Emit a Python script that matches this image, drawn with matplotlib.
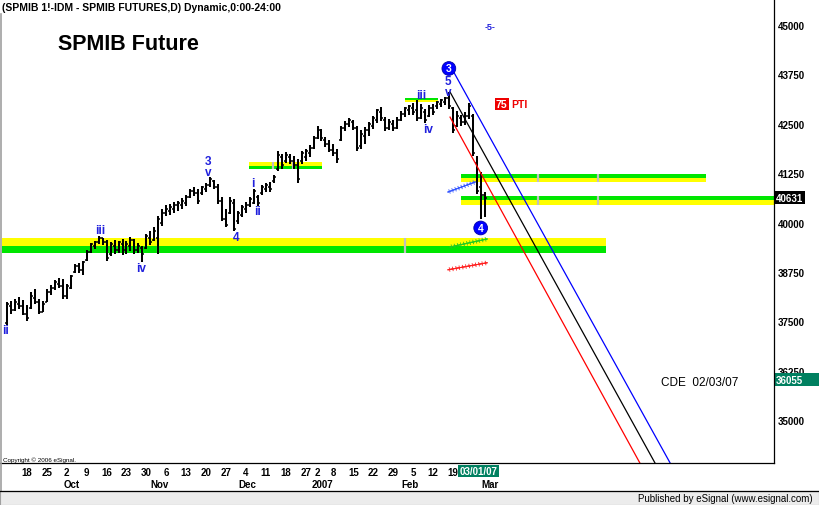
import numpy as np
import pandas as pd
import matplotlib
matplotlib.use("Agg")
import matplotlib.pyplot as plt
from matplotlib.patches import Rectangle
from matplotlib import patheffects, transforms

plt.rcParams['font.family'] = ['Liberation Sans', 'DejaVu Sans']

W, H = 819, 506

# ---------------- data ----------------
holidays = ["2006-12-25", "2006-12-26", "2007-01-01"]
dates = pd.bdate_range("2006-09-11", "2007-03-01", freq="C", holidays=holidays)

highs = [37990, 38020, 38070, 38120, 38040, 37920, 38240, 38320, 38070, 38020,
         38320, 38420, 38550, 38600, 38570, 38450, 38680, 38950, 38980, 39030,
         39310, 39480, 39540, 39660, 39610, 39560, 39510, 39560, 39540, 39590,
         39540, 39640, 39590, 39480, 39410, 39710, 39790, 39890, 40170, 40340,
         40450, 40470, 40520, 40550, 40620, 40700, 40850, 40900, 40850, 40930,
         41000, 41150, 41080, 40980, 40650, 40340, 40650, 40600, 40300, 40450,
         40520, 40650, 40850, 40700, 40950, 41000, 41030, 41210, 41810, 41740,
         41790, 41740, 41690, 41610, 41810, 41860, 41960, 42190, 42440, 42370,
         42170, 42090, 41990, 41860, 42440, 42570, 42650, 42600, 42440, 42340,
         42420, 42550, 42700, 42880, 42920, 42670, 42620, 42600, 42670, 42820,
         42930, 42980, 43030, 43100, 43000, 42880, 42980, 43000, 43080, 43130,
         43180, 43300, 42930, 42820, 42720, 42800, 43030, 42750, 41690, 41280,
         40780]
lows = [37410, 37690, 37760, 37820, 37660, 37510, 37820, 37940, 37690, 37740,
        37990, 38170, 38300, 38350, 38070, 38070, 38320, 38730, 38730, 38680,
        39030, 39230, 39330, 39460, 39430, 39030, 39160, 39210, 39230, 39180,
        39210, 39280, 39210, 39230, 39000, 39330, 39430, 39540, 39210, 39920,
        40170, 40190, 40240, 40290, 40350, 40420, 40620, 40670, 40470, 40700,
        40780, 40900, 40850, 40470, 40040, 39890, 40220, 39790, 39970, 40140,
        40240, 40390, 40470, 40420, 40700, 40780, 40780, 41000, 41310, 41360,
        41510, 41480, 41360, 41000, 41480, 41560, 41660, 41860, 42120, 42070,
        41910, 41790, 41690, 41510, 42070, 42320, 42420, 42340, 41810, 41860,
        41990, 42190, 42370, 42520, 42570, 42320, 42340, 42320, 42370, 42570,
        42670, 42720, 42720, 42570, 42620, 42520, 42670, 42720, 42880, 42930,
        42980, 42880, 42270, 42420, 42450, 42470, 42620, 41690, 40720, 40090,
        40150]
opens = [37450, 37900, 37800, 37950, 37900, 37700, 37850, 38100, 38000, 37750,
         38000, 38250, 38350, 38450, 38400, 38150, 38350, 38750, 38900, 38800,
         39050, 39250, 39400, 39500, 39600, 39500, 39200, 39400, 39300, 39450,
         39300, 39400, 39550, 39300, 39350, 39350, 39600, 39550, 39600, 40000,
         40250, 40300, 40350, 40450, 40450, 40500, 40650, 40800, 40750, 40750,
         40850, 40950, 41050, 40900, 40550, 40100, 40250, 40500, 40050, 40200,
         40350, 40450, 40500, 40650, 40750, 40850, 40900, 41050, 41350, 41650,
         41550, 41650, 41550, 41450, 41550, 41650, 41750, 41900, 42150, 42300,
         42100, 42000, 41850, 41750, 42100, 42400, 42500, 42550, 42400, 41950,
         42200, 42350, 42450, 42600, 42800, 42600, 42400, 42500, 42400, 42600,
         42750, 42850, 42900, 42850, 42650, 42800, 42700, 42900, 42950, 43000,
         43050, 43150, 42900, 42450, 42650, 42550, 42700, 42700, 41500, 40900,
         40700]
closes = [37950, 37800, 38000, 37900, 37700, 37600, 38150, 38000, 37750, 37950,
          38250, 38350, 38500, 38400, 38150, 38400, 38650, 38900, 38800, 39000,
          39250, 39450, 39500, 39600, 39500, 39100, 39450, 39300, 39500, 39250,
          39450, 39550, 39300, 39400, 39200, 39650, 39500, 39800, 40100, 40250,
          40350, 40400, 40450, 40500, 40550, 40650, 40800, 40750, 40550, 40900,
          40950, 41100, 40900, 40550, 40100, 39950, 40550, 39850, 40250, 40400,
          40450, 40600, 40800, 40500, 40900, 40950, 40850, 41150, 41700, 41450,
          41700, 41550, 41450, 41100, 41750, 41800, 41900, 42150, 42350, 42150,
          42000, 41850, 41750, 41600, 42400, 42500, 42600, 42400, 41900, 42250,
          42350, 42500, 42650, 42850, 42650, 42400, 42550, 42400, 42600, 42750,
          42900, 42950, 42800, 42650, 42900, 42600, 42900, 42800, 43050, 43100,
          43150, 42950, 42350, 42700, 42550, 42700, 42950, 41750, 40800, 40700,
          40631]

last_price = 40631
other_value = 36055

y_ticks = [35000, 36250, 37500, 38750, 40000, 41250, 42500, 43750, 45000]
week_dates = ["2006-09-18", "2006-09-25", "2006-10-02", "2006-10-09", "2006-10-16",
              "2006-10-23", "2006-10-30", "2006-11-06", "2006-11-13", "2006-11-20",
              "2006-11-27", "2006-12-04", "2006-12-11", "2006-12-18", "2006-12-27",
              "2007-01-02", "2007-01-08", "2007-01-15", "2007-01-22", "2007-01-29",
              "2007-02-05", "2007-02-12", "2007-02-19"]
month_dates = ["2006-10-02", "2006-11-01", "2006-12-01", "2007-01-02", "2007-02-01", "2007-03-01"]
month_names = ["Oct", "Nov", "Dec", "2007", "Feb", "Mar"]

# support / resistance zones: x-range in bar index, price levels
band_x0 = [-3.0, 60.8, 100.0, 114.0, 114.0]
band_x1 = [150.5, 79.1, 108.3, 175.6, 196.0]
band_top = [39610, 41535, 43150, 41230, 40675]
band_mid = [39410, 41435, 43100, 41130, 40575]
band_bot = [39230, 41355, 43050, 41030, 40445]
band_upper_col = ["yellow", "yellow", "green", "green", "green"]
band_marks = [[37.9, 100.0], [66.8, 71.8], [], [133.4, 148.5], [133.4, 148.5]]

# channel lines (bar index, price)
blue_line_x, blue_line_y = [111.8, 166.6], [43887, 33919]
black_line_x, black_line_y = [111.3, 162.8], [43305, 33919]
red_line_x, red_line_y = [111.3, 159.0], [42670, 33919]
blue_hatch_x, blue_hatch_y = [110.8, 117.6], [40775, 41028]
green_hatch_x, green_hatch_y = [111.3, 120.6], [39384, 39586]
red_hatch_x, red_hatch_y = [110.8, 120.6], [38808, 38985]

# wave labels (text, bar index, price)
wave_labels = [("ii", -0.5, 37284), ("iii", 23.4, 39814), ("iv", 33.7, 38860),
               ("3", 50.5, 41559), ("v", 50.5, 41280), ("4", 57.5, 39637),
               ("i", 61.8, 41003), ("ii", 62.8, 40294), ("iii", 104.0, 43229),
               ("iv", 105.8, 42369), ("5", 110.8, 43583), ("v", 110.8, 43305),
               ("-5-", 121.3, 44975)]
circled_labels = [("3", 111.0, 43900), ("4", 119.0, 39865)]

# ---------------- figure ----------------
fig = plt.figure(figsize=(W / 100, H / 100), dpi=100)
fig.patch.set_facecolor("white")
ax = fig.add_axes([2 / W, (H - 464) / H, (774 - 2) / W, (464 - 17) / H])
ax.set_xlim(-1.28, 192.7)
ax.set_ylim(33919, 45228)
for s in ax.spines.values():
    s.set_visible(False)

x = np.arange(len(dates))
YEL, GRN = "#ffff00", "#00e600"

# zones
for x0, x1, t, m, b, uc, marks in zip(band_x0, band_x1, band_top, band_mid, band_bot,
                                      band_upper_col, band_marks):
    c_up = YEL if uc == "yellow" else GRN
    c_lo = GRN if uc == "yellow" else YEL
    ax.add_patch(Rectangle((x0, m), x1 - x0, t - m, facecolor=c_up, edgecolor="none", zorder=1))
    ax.add_patch(Rectangle((x0, b), x1 - x0, m - b, facecolor=c_lo, edgecolor="none", zorder=1))
    for mk in marks:
        ax.vlines(mk, b, t, color="#c0c0c0", lw=1.6, zorder=1.5)

# OHLC bars
ax.vlines(x, lows, highs, color="black", lw=1.45, zorder=3)
ax.hlines(opens, x - 0.5, x, color="black", lw=1.1, zorder=3)
ax.hlines(closes, x, x + 0.5, color="black", lw=1.1, zorder=3)

# channel lines
ax.plot(blue_line_x, blue_line_y, color="#0000ff", lw=0.9, zorder=4)
ax.plot(black_line_x, black_line_y, color="black", lw=0.9, zorder=4)
ax.plot(red_line_x, red_line_y, color="#ff0000", lw=0.9, zorder=4)

def ticked():
    return [patheffects.withTickedStroke(angle=90, spacing=2.2, length=0.6, linewidth=0.6),
            patheffects.withTickedStroke(angle=-90, spacing=2.2, length=0.6, linewidth=0.6),
            patheffects.Normal()]

ax.plot(blue_hatch_x, blue_hatch_y, color="#3355ff", lw=0.7, zorder=4, path_effects=ticked())
ax.plot(green_hatch_x, green_hatch_y, color="#22cc22", lw=0.7, zorder=4, path_effects=ticked())
ax.plot(red_hatch_x, red_hatch_y, color="#ff2020", lw=0.7, zorder=4, path_effects=ticked())

# wave labels
for t, xi, yv in wave_labels:
    fs = 6.5 if t == "-5-" else 8.5
    ax.text(xi, yv, t, color="#2020dd", fontsize=fs, fontweight="bold",
            ha="center", va="center", zorder=5)
for t, xi, yv in circled_labels:
    ax.text(xi, yv, t, color="white", fontsize=7.5, fontweight="bold", ha="center", va="center",
            zorder=6, bbox=dict(boxstyle="circle,pad=0.18", facecolor="#0000ff",
                                edgecolor="#0000aa", lw=0.6))

# PTI
ax.text(124.3, 43002, "75", color="white", fontsize=7.5, fontweight="bold", ha="center",
        va="center", zorder=6, bbox=dict(boxstyle="square,pad=0.12", facecolor="#ee0000", edgecolor="none"))
ax.text(126.6, 43002, "PTI", color="#ee0000", fontsize=7.5, fontweight="bold", ha="left",
        va="center", zorder=6)

ax.text(174.1, 35968, "CDE  02/03/07", color="black", fontsize=8.5, ha="center", va="center", zorder=6)

# y axis on the right
ax.yaxis.tick_right()
ax.set_yticks(y_ticks)
ax.set_yticklabels([str(v) for v in y_ticks])
ax.tick_params(axis="y", length=0, pad=3, labelsize=7)
for lb in ax.get_yticklabels():
    lb.set_fontweight("bold")

# x axis
wk_idx = dates.get_indexer(pd.to_datetime(week_dates))
ax.set_xticks(wk_idx)
ax.set_xticklabels([str(pd.Timestamp(d).day) for d in week_dates])
ax.tick_params(axis="x", length=0, pad=3, labelsize=7)
for lb in ax.get_xticklabels():
    lb.set_fontweight("bold")

mo_idx = dates.get_indexer(pd.to_datetime(month_dates))
xt = transforms.blended_transform_factory(ax.transData, fig.transFigure)
for mi, mn in zip(mo_idx, month_names):
    ax.text(mi + 1.3, 1 - 485 / H, mn, transform=xt, fontsize=7, fontweight="bold",
            ha="center", va="center", clip_on=False)

# last-date box
ax.text(mo_idx[-1] - 1.5, 1 - 472 / H, "03/01/07", transform=xt, fontsize=7, fontweight="bold",
        color="white", ha="center", va="center", clip_on=False, zorder=7,
        bbox=dict(boxstyle="square,pad=0.15", facecolor="#008060", edgecolor="none"))

# price boxes on the right
yt = transforms.blended_transform_factory(fig.transFigure, ax.transData)
ax.text(776 / W, last_price, str(last_price), transform=yt, fontsize=7, fontweight="bold",
        color="white", ha="left", va="center", clip_on=False, zorder=7,
        bbox=dict(boxstyle="square,pad=0.15", facecolor="black", edgecolor="none"))
ax.add_patch(Rectangle((775 / W, other_value - 200), 44 / W, 330, transform=yt,
                       facecolor="#008060", edgecolor="none", clip_on=False, zorder=6))
ax.text(776 / W, other_value - 40, str(other_value), transform=yt, fontsize=7, fontweight="bold",
        color="white", ha="left", va="center", clip_on=False, zorder=7)

# frame lines
fig.add_artist(plt.Line2D([774 / W, 774 / W], [1 - 464 / H, 1.0], color="black", lw=0.9))
fig.add_artist(plt.Line2D([0, 774 / W], [1 - 464 / H, 1 - 464 / H], color="black", lw=0.9))
fig.add_artist(plt.Line2D([0.6 / W, 0.6 / W], [1 - 492 / H, 1 - 15 / H], color="#a0a0a0", lw=1.2))

# footer
fig.add_artist(Rectangle((0, 0), 1, 14 / H, transform=fig.transFigure, facecolor="#ececec",
                         edgecolor="#a0a0a0", lw=0.8))
fig.add_artist(plt.Line2D([0, 1], [14 / H, 14 / H], color="black", lw=0.9))
fig.text(813 / W, 7 / H, "Published by eSignal (www.esignal.com)", fontsize=7,
         ha="right", va="center")

# header and title
fig.text(2 / W, 1 - 8 / H, "(SPMIB 1!-IDM - SPMIB FUTURES,D) Dynamic,0:00-24:00",
         fontsize=7.5, fontweight="bold", ha="left", va="center")
fig.text(58 / W, 1 - 45 / H, "SPMIB Future", fontsize=15.5, fontweight="bold",
         ha="left", va="center")
fig.text(3 / W, 1 - 460 / H, "Copyright \u00a9 2006 eSignal.", fontsize=4.5,
         ha="left", va="center")

fig.savefig("out.png", dpi=100)
